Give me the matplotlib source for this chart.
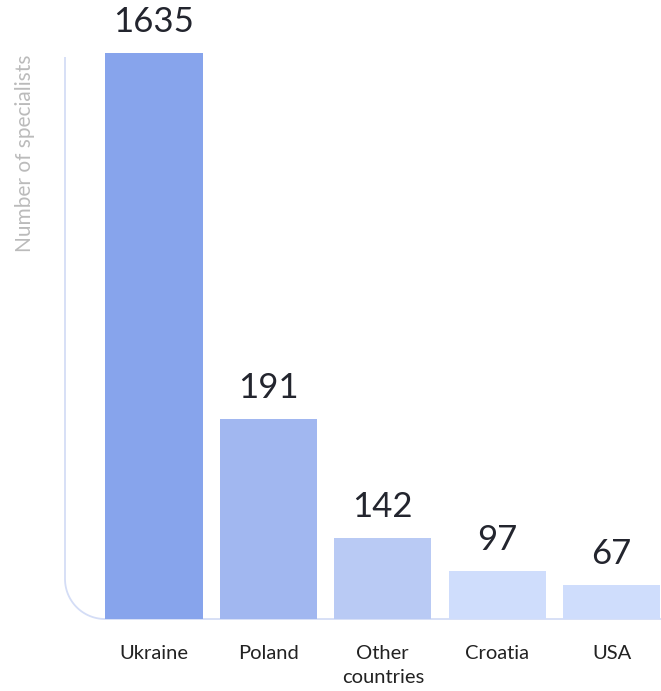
import numpy as np
import matplotlib
matplotlib.use("Agg")
import matplotlib.pyplot as plt

categories = ["Ukraine", "Poland", "Other\ncountries", "Croatia", "USA"]
values = [1635, 191, 142, 97, 67]
# bar heights as drawn in the picture (non-proportional display heights)
display_heights = [566, 200, 81, 48, 34]
colors = ["#87A4EC", "#A1B7F0", "#B9CAF4", "#CFDDFC", "#CFDDFC"]

W, H = 661, 691
fig = plt.figure(figsize=(W / 100, H / 100), dpi=100)
plt.rcParams['font.family'] = ['Lato', 'DejaVu Sans']

base_px = 619
top_px = 53
left_px = 65
spacing = 114.4
c0 = 154
ax = fig.add_axes([left_px / W, (H - base_px) / H, (W - left_px) / W, (base_px - top_px) / H])
ax.set_xlim((left_px - c0) / spacing, (W - c0) / spacing)
ax.set_ylim(0, max(display_heights))
x = np.arange(len(categories))
ax.bar(x, display_heights, width=0.85, color=colors, zorder=2)
for xi, h, v in zip(x, display_heights, values):
    ax.annotate(str(v), (xi, h), xytext=(0, 15), textcoords="offset pixels",
                ha="center", va="bottom", fontsize=25, color="#23252e",
                annotation_clip=False)
ax.set_xticks(x)
ax.set_xticklabels(categories, fontsize=14.5, color="#222222", linespacing=1.5, va="top")
ax.tick_params(axis="x", length=0, pad=19)
ax.set_yticks([])
for s in ax.spines.values():
    s.set_visible(False)
ax.patch.set_alpha(0)

# overlay for the rounded axis line
ov = fig.add_axes([0, 0, 1, 1], zorder=-1)
ov.set_xlim(0, W)
ov.set_ylim(H, 0)
ov.axis("off")
r = 40
t = np.linspace(np.pi, np.pi / 2, 30)
ax_x = left_px + r + r * np.cos(t)
ax_y = base_px - r + r * np.sin(t)
px = np.concatenate([[left_px], ax_x, [W]])
py = np.concatenate([[57], ax_y, [base_px]])
ov.plot(px, py, color="#D4DDF6", lw=1.3, solid_capstyle="butt")

fig.text(25 / W, 1 - 55 / H, "Number of specialists", rotation=90, ha="center", va="top",
         fontsize=15, color="#BBBBBB")

fig.savefig("out.png", dpi=100)
